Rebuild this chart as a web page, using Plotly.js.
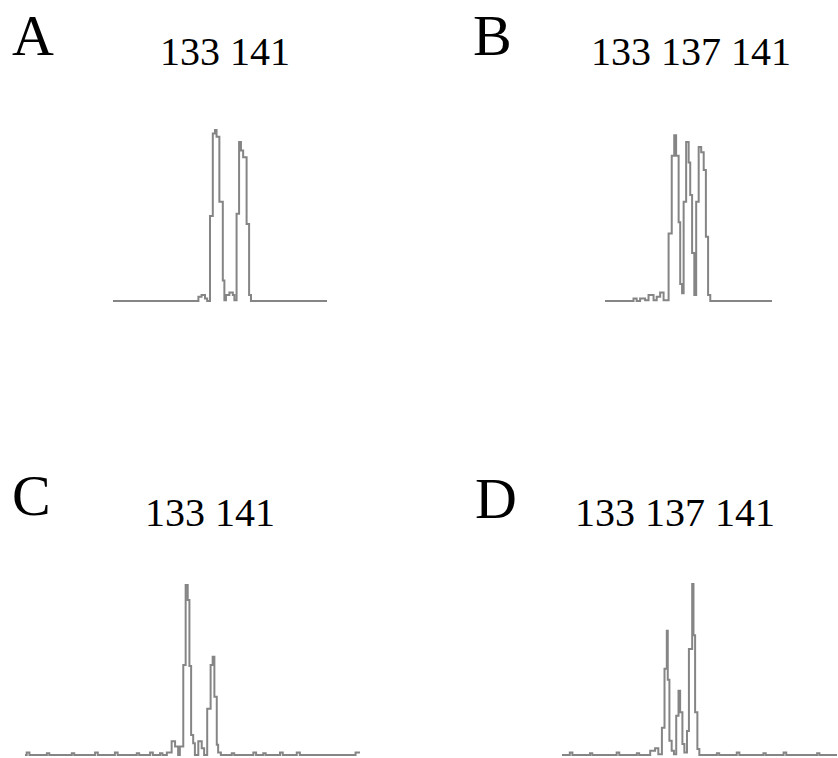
<!DOCTYPE html>
<html>
<head>
<meta charset="utf-8">
<script src="https://cdn.plot.ly/plotly-3.0.1.min.js"></script>
<style>html,body{margin:0;padding:0;background:#fff;}#chart{width:838px;height:758px;}</style>
</head>
<body>
<div id="chart"></div>
<script>
// Panel labels and allele sizes
const panelLetters = ["A", "B", "C", "D"];
const alleleLabels = ["133 141", "133 137 141", "133 141", "133 137 141"];

// Panel A: fragment size (bp) and relative intensity
const sizeA = [100.4, 127.7, 128.7, 129.8, 130.5, 131.4, 132.3, 133.0, 133.5, 134.4, 135.5, 136.0, 136.5, 137.6, 138.7, 139.2, 139.9, 140.7, 141.3, 142.0, 143.1, 143.9, 144.5, 168.8];
const intA  = [0, 2.5, 3.5, 1.5, 0, 49.7, 98, 100, 96, 58, 12, 0.5, 3.5, 5, 3.5, 0.5, 51, 93, 88, 84, 45, 3.5, 0, 0];

// Panel B
const sizeB = [110.6, 119.7, 120.7, 121.8, 123.4, 124.5, 126.1, 127.1, 128.2, 129.3, 130.9, 131.9, 132.7, 133.3, 134.1, 134.6, 135.2, 135.7, 136.5, 137.3, 137.8, 138.4, 139.1, 139.7, 140.5, 141.3, 142.1, 142.8, 143.5, 144.2, 163.9];
const intB  = [0, 1.5, 0, 1.5, 0.5, 3.5, 0.5, 2.5, 5, 0.5, 39.5, 85, 97, 85, 46, 10, 4.5, 58, 93, 81, 62, 28, 3.5, 58, 90, 87, 76.6, 37.6, 3.5, 0, 0];

// Panel C
const sizeC = [85.9, 86.4, 87.2, 92.3, 93.0, 99.6, 100.3, 106.4, 107.2, 112.2, 113.0, 118.6, 119.3, 122.5, 123.3, 125.4, 126.1, 127.4, 128.8, 129.8, 130.7, 131.2, 132.2, 132.9, 133.5, 134.0, 134.5, 135.1, 135.6, 136.6, 137.6, 138.3, 139.2, 140.2, 140.8, 141.3, 142.0, 142.4, 143.2, 146.4, 147.1, 152.7, 153.5, 155.6, 156.3, 160.5, 161.3, 165.4, 166.3, 182.6, 183.9];
const intC  = [0, 1.5, 0, 1, 0, 1, 0, 1.5, 0, 1.5, 0, 1, 0, 1.5, 0, 1, 0, 1.5, 8, 5, 0, 5, 52.6, 99.4, 90.6, 52, 11.7, 6.8, 0, 8, 4, 0, 27, 52.6, 57.5, 34, 6, 1.5, 0, 1, 0, 1.5, 0, 1, 0, 1.5, 0, 1.5, 0, 1.5, 1.5];

// Panel D
const sizeD = [100.8, 103.2, 104.0, 109.4, 110.1, 117.6, 118.4, 123.8, 124.5, 127.9, 129.4, 130.4, 131.5, 132.3, 133.0, 133.3, 133.8, 134.5, 135.2, 135.9, 136.6, 137.1, 137.8, 138.4, 139.2, 139.8, 140.8, 141.2, 141.7, 142.4, 143.0, 148.4, 149.1, 154.5, 155.3, 162.7, 163.4, 168.9, 169.7, 179.2, 179.9, 185.3];
const intD  = [0, 1.5, 0, 1, 0, 1.5, 0, 1, 0, 2.5, 4, 0.5, 16, 50.5, 72.7, 44, 8.4, 2.5, 0.5, 23, 37.6, 25, 6.4, 1.5, 14, 62, 100, 70, 25, 3.5, 0, 1, 0, 1.5, 0, 1, 0, 1.5, 0, 1, 0, 0];

const sizes = [sizeA, sizeB, sizeC, sizeD];
const ints = [intA, intB, intC, intD];

// ---- layout geometry (pixels) ----
const W = 838, H = 758;
const pxPerUnit = 1.71;
const geom = [
  {x0: 113, x1: 327, xr: [100.4, 168.8], base: 301, yr: [-10, 110]},
  {x0: 605, x1: 772, xr: [110.6, 163.9], base: 301, yr: [-10, 110]},
  {x0: 25,  x1: 360, xr: [85.9, 183.9],  base: 755, yr: [-1.4, 110]},
  {x0: 562, x1: 837, xr: [100.8, 185.3], base: 755, yr: [-1.4, 110]}
];
const letterPos = [[33, 35], [492, 35], [31.5, 495], [496.5, 498]];
const labelPos = [[225, 52], [690.5, 52], [209.5, 512], [675, 512]];

const data = [];
const layout = {
  width: W, height: H,
  margin: {l: 0, r: 0, t: 0, b: 0},
  paper_bgcolor: "#ffffff", plot_bgcolor: "rgba(0,0,0,0)",
  showlegend: false,
  annotations: []
};

geom.forEach((g, i) => {
  const sfx = i === 0 ? "" : String(i + 1);
  data.push({
    type: "scatter", mode: "lines",
    x: sizes[i], y: ints[i],
    xaxis: "x" + sfx, yaxis: "y" + sfx,
    line: {color: "#858585", width: 2, shape: "hv"},
    hoverinfo: "skip"
  });
  const yTop = g.base - g.yr[1] * pxPerUnit;
  const yBot = g.base - g.yr[0] * pxPerUnit;
  layout["xaxis" + sfx] = {
    domain: [g.x0 / W, g.x1 / W], range: g.xr, visible: false,
    anchor: "y" + sfx, fixedrange: true
  };
  layout["yaxis" + sfx] = {
    domain: [Math.max(0, 1 - yBot / H), Math.min(1, 1 - yTop / H)], range: g.yr,
    visible: false, anchor: "x" + sfx, fixedrange: true
  };
  layout.annotations.push({
    text: panelLetters[i], xref: "paper", yref: "paper",
    x: letterPos[i][0] / W, y: 1 - letterPos[i][1] / H,
    xanchor: "center", yanchor: "middle", showarrow: false,
    font: {family: "Liberation Serif, Times New Roman, serif", size: 58, color: "#000"}
  });
  layout.annotations.push({
    text: alleleLabels[i], xref: "paper", yref: "paper",
    x: labelPos[i][0] / W, y: 1 - labelPos[i][1] / H,
    xanchor: "center", yanchor: "middle", showarrow: false,
    font: {family: "Liberation Serif, Times New Roman, serif", size: 40, color: "#000"}
  });
});

Plotly.newPlot("chart", data, layout, {displayModeBar: false, staticPlot: true});
</script>
</body>
</html>
